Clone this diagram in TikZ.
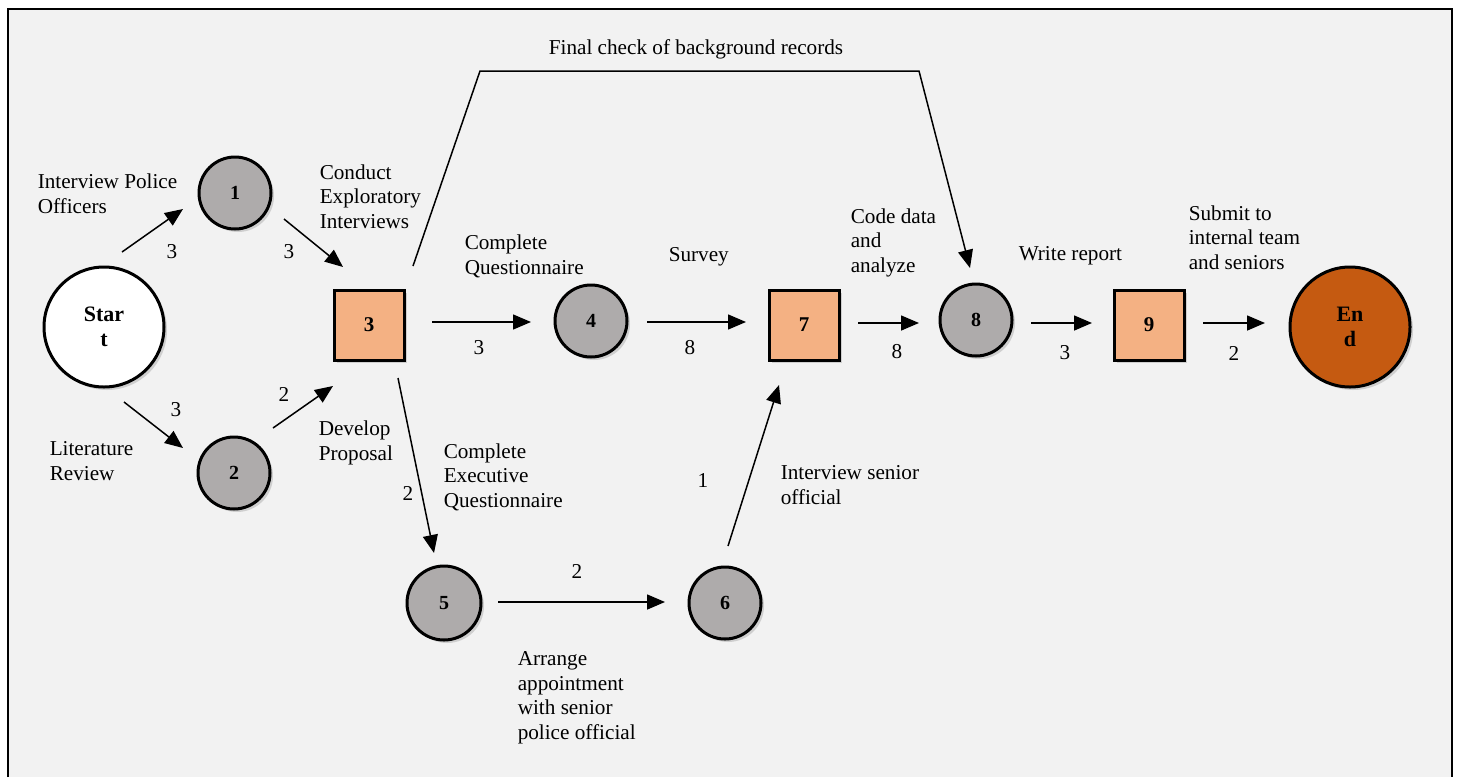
\documentclass[tikz,border=0pt]{standalone}
\usepackage{fontspec}
\setmainfont{Liberation Serif}
\usetikzlibrary{calc,arrows.meta,shadows}
\definecolor{bg}{HTML}{F2F2F2}
\definecolor{ev}{HTML}{AEABAB}
\definecolor{ac}{HTML}{F4B183}
\definecolor{fin}{HTML}{C55A11}

\begin{document}
\begin{tikzpicture}[>={Triangle[length=9pt,width=7.5pt]},x=0.5pt,y=-0.5pt,line width=0.75pt,
	shd/.style={drop shadow={shadow xshift=1.5pt,shadow yshift=-1.5pt,opacity=.3}},
	evt/.style={circle,draw,line width=1.5pt,fill=ev,minimum size=36pt,inner sep=0pt,shd,font=\fontsize{10}{12}\selectfont\bfseries},
	sq/.style={rectangle,draw,line width=1.5pt,fill=ac,minimum size=35pt,inner sep=0pt,shd,font=\fontsize{10.5}{12}\selectfont\bfseries},
	term/.style={circle,draw,line width=1.5pt,minimum size=60pt,inner sep=0pt,align=center,shd,font=\fontsize{11}{12.5}\selectfont\bfseries},
	lbl/.style={anchor=base west,inner sep=0pt,align=left,font=\fontsize{10.6}{12.25}\selectfont},
	num/.style={inner sep=0pt,font=\fontsize{10.6}{12.25}\selectfont}]
	\useasboundingbox (0,0) rectangle (1460,777);
	\fill[white] (0,0) rectangle (1460,777);
	\fill[bg] (8,9) rectangle (1452,777);
	\draw[line width=1.25pt] (8,777) -- (8,9) -- (1452,9) -- (1452,777);
	\node[term,fill=white] (start) at (104,327) {Star\\t};
	\node[evt] (n1) at (235,193) {1};
	\node[evt] (n2) at (234,473) {2};
	\node[sq] (n3) at (369,325) {3};
	\node[evt] (n4) at (591,321) {4};
	\node[evt,minimum size=37pt] (n5) at (444,603) {5};
	\node[evt] (n6) at (725,603) {6};
	\node[sq] (n7) at (804,325) {7};
	\node[evt] (n8) at (976,320) {8};
	\node[sq] (n9) at (1149,325) {9};
	\node[term,fill=fin] (end) at (1350,327) {En\\d};
	\coordinate (fl) at (480,71);
	\coordinate (fr) at (919,71);
	\draw[->] ($(start)+(18,-75)$) -- ($(n1)+(-52,16)$);
	\draw[->] ($(n1)+(49,26)$) -- ($(n3)+(-26,-58)$);
	\draw[->] ($(start)+(20,75)$) -- ($(n2)+(-51,-25)$);
	\draw[->] ($(n2)+(39,-45)$) -- ($(n3)+(-36,61)$);
	\draw[->] ($(n3)+(63,-3)$) -- ($(n4)+(-60,1)$);
	\draw[->] ($(n4)+(56,1)$) -- ($(n7)+(-58,-3)$);
	\draw[->] ($(n7)+(54,-2)$) -- ($(n8)+(-57,3)$);
	\draw[->] ($(n8)+(55,3)$) -- ($(n9)+(-57,-2)$);
	\draw[->] ($(n9)+(54,-2)$) -- ($(end)+(-85,-4)$);
	\draw[->] ($(n3)+(29,53)$) -- ($(n5)+(-10,-50)$);
	\draw[->] ($(n5)+(54,-1)$) -- ($(n6)+(-60,-1)$);
	\draw[->] ($(n6)+(3,-57)$) -- ($(n7)+(-25,60)$);
	\draw[->] ($(n3)+(44,-59)$) -- (fl) -- (fr) -- ($(n8)+(-6,-52)$);
	\node[lbl] (tpol) at (37,213) {Interview Police\\Officers};
	\node[lbl] (tlit) at (49,480) {Literature\\Review};
	\node[lbl] (tcon) at (319,228) {Conduct\\Exploratory\\Interviews};
	\node[lbl] (tdev) at (318,460) {Develop\\Proposal};
	\node[lbl] (tque) at (464,274) {Complete\\Questionnaire};
	\node[lbl] (tsur) at (668,261) {Survey};
	\node[lbl] (tcod) at (850,272) {Code data\\and\\analyze};
	\node[lbl] (twri) at (1018,260) {Write report};
	\node[lbl] (tsub) at (1188,269) {Submit to\\internal team\\and seniors};
	\node[lbl,anchor=base] (tfin) at (696,54) {Final check of background records};
	\node[lbl] (texe) at (443,507) {Complete\\Executive\\Questionnaire};
	\node[lbl] (tsen) at (780,504) {Interview senior\\official};
	\node[lbl] (tarr) at (517,739) {Arrange\\appointment\\with senior\\police official};
	\node[num] (d1) at (172,252) {3};
	\node[num] (d2) at (289,252) {3};
	\node[num] (d3) at (176,410) {3};
	\node[num] (d4) at (284,394) {2};
	\node[num] (d5) at (479,348) {3};
	\node[num] (d6) at (690,348) {8};
	\node[num] (d7) at (897,352) {8};
	\node[num] (d8) at (1065,353) {3};
	\node[num] (d9) at (1234,353) {2};
	\node[num] (d10) at (408,493) {2};
	\node[num] (d11) at (703,480) {1};
	\node[num] (d12) at (577,571) {2};
\end{tikzpicture}
\end{document}
